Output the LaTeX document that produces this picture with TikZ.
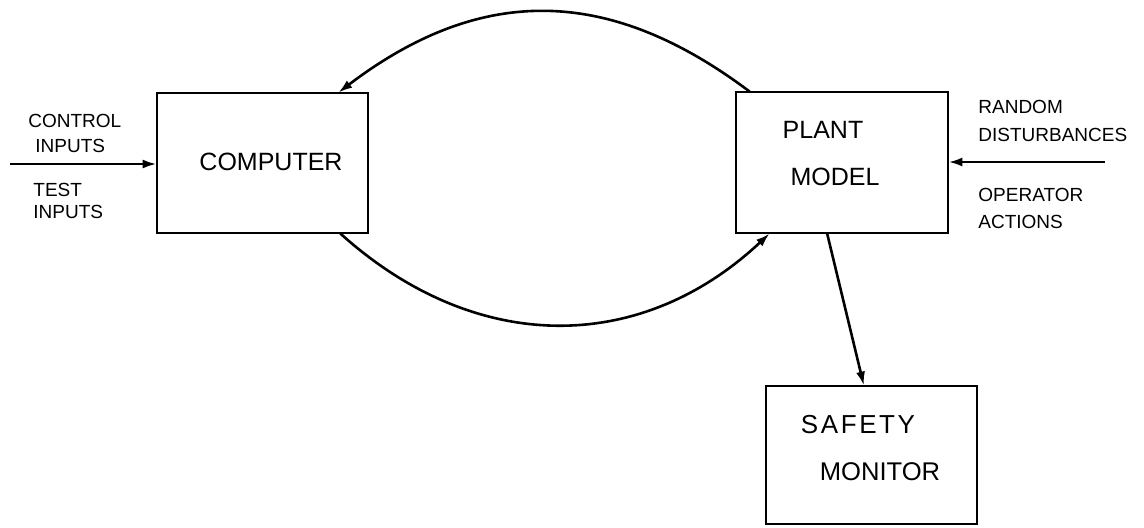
\documentclass[tikz,border=0pt]{standalone}
\usepackage{fontspec}
\setmainfont{Liberation Sans}
\newfontfamily\spacedfont[LetterSpace=10]{Liberation Sans}
\usetikzlibrary{arrows.meta,calc}
\tikzset{
  blockbox/.style={draw, line width=1.3pt, inner sep=0pt},
  biglabel/.style={font=\fontsize{12.5}{14}\selectfont, inner sep=0pt},
  smalllabel/.style={font=\fontsize{9.5}{11}\selectfont, inner sep=0pt, anchor=west},
  flow/.style={line width=1.3pt, -{Latex[length=7pt,width=4.5pt]}}
}
\begin{document}
\begin{tikzpicture}[x=0.5pt,y=-0.5pt]
\useasboundingbox (0,0) rectangle (1144,527);
% boxes
\draw[blockbox] (157,93) rectangle (368,233);
\node[inner sep=0pt, minimum width=105.5pt, minimum height=70pt] (computer) at (262.5,163) {};
\draw[blockbox] (736,92) rectangle (948,233);
\node[inner sep=0pt, minimum width=106pt, minimum height=70.5pt] (plant) at (842,162.5) {};
\draw[blockbox] (766,386) rectangle (977,524);
\node[inner sep=0pt, minimum width=105.5pt, minimum height=69pt] (safety) at (871.5,455) {};
% labels in boxes
\node[biglabel] (computerlbl) at (271,162) {COMPUTER};
\node[biglabel] (plantlbl) at (823,130) {PLANT};
\node[biglabel] (modellbl) at (835,177) {MODEL};
\node[biglabel, font=\spacedfont\fontsize{13}{15}\selectfont] (safetylbl) at (858,425) {SAFETY};
\node[biglabel, font=\fontsize{12.8}{15}\selectfont] (monitorlbl) at (880,472) {MONITOR};
% side labels
\node[smalllabel] (controllbl) at (28,121) {CONTROL};
\node[smalllabel] (inputslbl) at (35,146) {INPUTS};
\node[smalllabel] (testlbl) at (33,190) {TEST};
\node[smalllabel] (inputslbltwo) at (33,212) {INPUTS};
\node[smalllabel] (randomlbl) at (978,107) {RANDOM};
\node[smalllabel] (disturblbl) at (978,135) {DISTURBANCES};
\node[smalllabel] (operatorlbl) at (978,195) {OPERATOR};
\node[smalllabel] (actionslbl) at (978,222) {ACTIONS};
% connectors
\coordinate (inleft) at (10,164);
\coordinate (inright) at (1105,162);
\draw[flow] (inleft) -- (inleft -| computer.west);
\draw[flow] (inright) -- (inright -| plant.east);
\draw[flow] ($(plant.north west)!0.066!(plant.north east)$)
  .. controls (608,-15) and (480,-15) .. ($(computer.north west)!0.858!(computer.north east)$);
\draw[flow] ($(computer.south west)!0.867!(computer.south east)$)
  .. controls (475,355) and (640,355) .. ($(plant.south west)!0.16!(plant.south east)$);
\draw[flow] ($(plant.south west)!0.43!(plant.south east)$) -- ($(safety.north west)!0.464!(safety.north east)$);
\end{tikzpicture}
\end{document}
